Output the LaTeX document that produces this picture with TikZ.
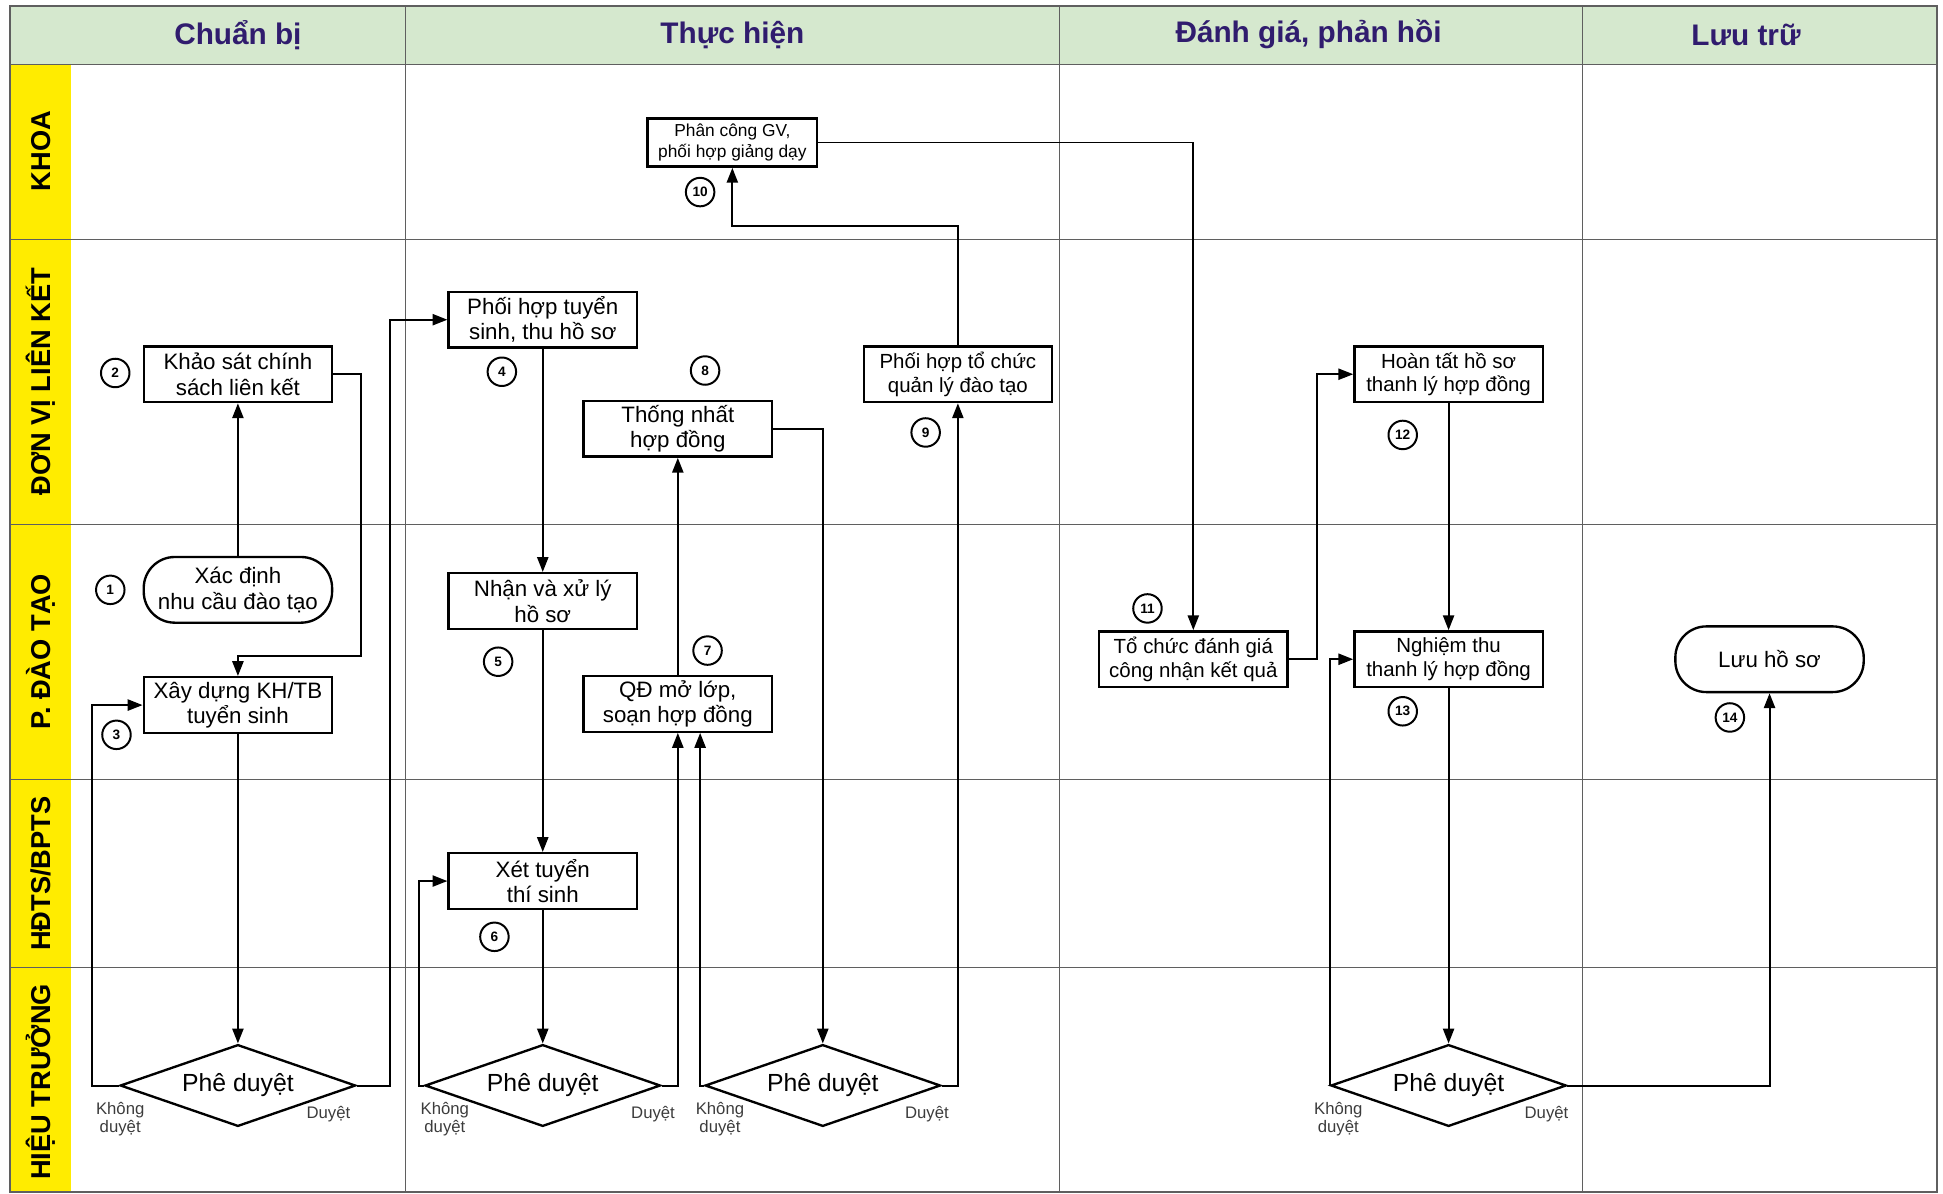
\documentclass[tikz,border=0pt]{standalone}
\usepackage{fontspec}
\setmainfont{Liberation Sans}
\usetikzlibrary{arrows.meta,shapes.geometric}
\definecolor{hdrgreen}{RGB}{213,232,206}
\definecolor{laneyellow}{RGB}{255,236,0}
\definecolor{hdrtext}{RGB}{48,28,110}
\definecolor{gridgray}{RGB}{95,95,95}
\definecolor{lblgray}{RGB}{60,60,60}
\begin{document}
\begin{tikzpicture}[x=1pt,y=-1pt,
  box/.style={draw,line width=1.9pt,fill=white,minimum width=152pt,minimum height=45pt,inner sep=1pt,align=center,font=\fontsize{18}{20.5}\selectfont},
  boxs/.style={box,font=\fontsize{16.5}{19}\selectfont},
  stadium/.style={box,rounded corners=25pt,minimum height=53pt},
  decide/.style={draw,diamond,line width=1.9pt,fill=white,minimum width=190pt,minimum height=66pt,inner sep=0pt,aspect=2.88,font=\fontsize{20}{23}\selectfont},
  num/.style={draw,circle,line width=1.6pt,minimum size=23pt,inner sep=0pt,font=\bfseries\fontsize{11}{13}\selectfont},
  hdr/.style={font=\bfseries\fontsize{24}{28}\selectfont,text=hdrtext},
  lane/.style={rotate=90,font=\bfseries\fontsize{22}{26}\selectfont},
  lbl/.style={align=center,text=lblgray,font=\fontsize{13.5}{15}\selectfont},
  flow/.style={line width=1.6pt,-{Triangle[length=12pt,width=9pt]}}
]
\useasboundingbox (0,0) rectangle (1568,963);
% background
\fill[hdrgreen] (8,5) rectangle (1563,52);
\fill[laneyellow] (8,52) rectangle (57,963);
% grid
\foreach \yy in {52,193,423,629,781} \draw[gridgray,line width=1pt] (8,\yy) -- (1563,\yy);
\foreach \xx in {327,855,1277} \draw[gridgray,line width=1pt] (\xx,5) -- (\xx,963);
\draw[gridgray,line width=1.2pt] (8,5) rectangle (1563,962);
% headers
\node[hdr] (h1) at (192,28) {Chuẩn bị};
\node[hdr] (h2) at (591,28) {Thực hiện};
\node[hdr] (h3) at (1056,28) {Đánh giá, phản hồi};
\node[hdr] (h4) at (1409,28) {Lưu trữ};
% lanes
\node[lane] (l1) at (33,122) {KHOA};
\node[lane] (l2) at (33,308) {ĐƠN VỊ LIÊN KẾT};
\node[lane] (l3) at (33,526) {P. ĐÀO TẠO};
\node[lane] (l4) at (33,705) {HĐTS/BPTS};
\node[lane] (l5) at (33,873) {HIỆU TRƯỞNG};
% nodes
\node[stadium] (n1) at (192,476) {Xác định\\nhu cầu đào tạo};
\node[box] (n2) at (192,302) {Khảo sát chính\\sách liên kết};
\node[box] (n3) at (192,569) {Xây dựng KH/TB\\tuyển sinh};
\node[box] (n4) at (438,258) {Phối hợp tuyển\\sinh, thu hồ sơ};
\node[box] (n5) at (438,485) {Nhận và xử lý\\hồ sơ};
\node[box] (n6) at (438,711) {Xét tuyển\\thí sinh};
\node[box] (n7) at (547,568) {QĐ mở lớp,\\soạn hợp đồng};
\node[box] (n8) at (547,346) {Thống nhất\\hợp đồng};
\node[boxs] (n9) at (773,302) {Phối hợp tổ chức\\quản lý đào tạo};
\node[box,minimum width=137pt,minimum height=39pt,font=\fontsize{14}{16.5}\selectfont] (n10) at (591,115) {Phân công GV,\\phối hợp giảng dạy};
\node[boxs] (n11) at (963,532) {Tổ chức đánh giá\\công nhận kết quả};
\node[boxs] (n12) at (1169,302) {Hoàn tất hồ sơ\\thanh lý hợp đồng};
\node[boxs] (n13) at (1169,532) {Nghiệm thu\\thanh lý hợp đồng};
\node[stadium] (n14) at (1428,532) {Lưu hồ sơ};
% decisions
\node[decide] (d1) at (192,876) {Phê duyệt};
\node[decide] (d2) at (438,876) {Phê duyệt};
\node[decide] (d3) at (664,876) {Phê duyệt};
\node[decide] (d4) at (1169,876) {Phê duyệt};
% decision labels
\node[lbl] (k1) at (97,903) {Không\\duyệt};
\node[lbl] (y1) at (265,899) {Duyệt};
\node[lbl] (k2) at (359,903) {Không\\duyệt};
\node[lbl] (y2) at (527,899) {Duyệt};
\node[lbl] (k3) at (581,903) {Không\\duyệt};
\node[lbl] (y3) at (748,899) {Duyệt};
\node[lbl] (k4) at (1080,903) {Không\\duyệt};
\node[lbl] (y4) at (1248,899) {Duyệt};
% step numbers
\node[num] (c1) at (89,476) {1};
\node[num] (c2) at (93,301) {2};
\node[num] (c3) at (94,593) {3};
\node[num] (c4) at (405,300) {4};
\node[num] (c5) at (402,534) {5};
\node[num] (c6) at (399,756) {6};
\node[num] (c7) at (571,525) {7};
\node[num] (c8) at (569,299) {8};
\node[num] (c9) at (747,349) {9};
\node[num] (c10) at (565,155) {10};
\node[num] (c11) at (926,491) {11};
\node[num] (c12) at (1132,351) {12};
\node[num] (c13) at (1132,574) {13};
\node[num] (c14) at (1396,579) {14};
% connectors
\draw[flow] (n1.north) -- (n2.south);
\draw[flow] (n2.east) -| (291,529) -| (n3.north);
\draw[flow] (n3.south) -- (d1.north);
\draw[flow] (d1.west) -- (74,876) |- (n3.west);
\draw[flow] (d1.east) -- (315,876) |- (n4.west);
\draw[flow] (n4.south) -- (n5.north);
\draw[flow] (n5.south) -- (n6.north);
\draw[flow] (n6.south) -- (d2.north);
\draw[flow] (d2.west) -- (338,876) |- (n6.west);
\draw[flow] (d2.east) -| (n7.south);
\draw[flow] (n7.north) -- (n8.south);
\draw[flow] (n8.east) -| (d3.north);
\draw[flow] (d3.west) -| ([xshift=18pt]n7.south);
\draw[flow] (d3.east) -| (n9.south);
\draw[flow] (n9.north) -- (773,182) -| (n10.south);
\draw[flow] (n10.east) -| (n11.north);
\draw[flow] (n11.east) -- (1063,532) |- (n12.west);
\draw[flow] (n12.south) -- (n13.north);
\draw[flow] (n13.south) -- (d4.north);
\draw[flow] (d4.west) |- (n13.west);
\draw[flow] (d4.east) -| (n14.south);
\end{tikzpicture}
\end{document}
